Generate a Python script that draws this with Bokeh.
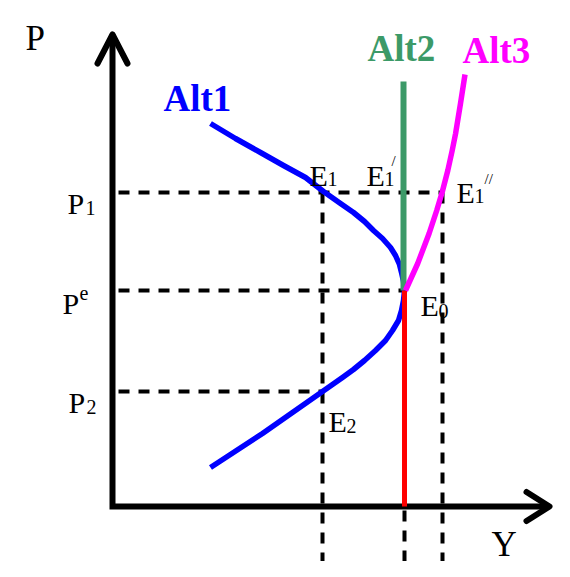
from bokeh.plotting import figure
from bokeh.models import Range1d
from bokeh.core.properties import value
from bokeh.embed import file_html
from bokeh.resources import INLINE

# ---- data (Y = output, P = price level) ----
alt1_Y = [98, 123, 148, 171, 193, 211, 228, 241, 252, 261, 270, 278, 283, 287, 289, 291, 292,
          291, 289, 286, 280, 273, 263, 252, 241, 230, 220, 210, 180, 150, 124, 98]
alt1_P = [383, 368, 354, 341, 329, 315, 303, 294, 285, 276, 268, 259, 251, 242, 234, 225, 216,
          206, 196, 186, 176, 166, 156, 146, 137, 129, 122, 115, 94, 73, 56, 39]
alt3_Y = [293, 305.2, 316.6, 324.2, 329.6, 335.3, 339.7, 343.1, 348, 352.5]
alt3_P = [216, 243, 273, 296, 314, 336, 356, 373, 403, 432]
alt2_top = 425
Y0, Y1, Y1pp = 292, 210, 330
P1, Pe, P2 = 314, 216, 115
axis_Y_max, axis_P_max = 437, 472

SERIF = value("Liberation Serif")

p = figure(width=554, height=561, x_range=Range1d(-112, 442), y_range=Range1d(-55, 506),
           output_backend="svg", toolbar_location=None, min_border=0,
           x_axis_type=None, y_axis_type=None)
p.grid.visible = False
p.outline_line_color = None
p.background_fill_color = "white"

dash = "11 9"
dw = 4
# horizontal guides
for py, yend in [(P1, Y1pp), (Pe, Y0), (P2, Y1)]:
    p.line([6, yend], [py, py], line_color="black", line_width=dw, line_dash=dash)
# vertical guides
for yx, ptop in [(Y1, P1), (Y0, Pe), (Y1pp, P1)]:
    p.line([yx, yx], [ptop, -80], line_color="black", line_width=dw, line_dash=dash)

# axes
p.line([0, 0, axis_Y_max], [axis_P_max, 0, 0], line_color="black", line_width=6, line_join="miter")
p.line([-15, 0, 15], [axis_P_max - 29, axis_P_max, axis_P_max - 29], line_color="black",
       line_width=6, line_join="round", line_cap="round")
p.line([axis_Y_max - 23, axis_Y_max, axis_Y_max - 23], [14.5, 0, -14.5], line_color="black",
       line_width=6, line_join="round", line_cap="round")

# curves
p.line(alt1_Y, alt1_P, line_color="#0000FF", line_width=5.5, line_join="round")
p.line([Y0 - 1, Y0 - 1], [Pe, alt2_top], line_color="#3C9A68", line_width=6)
p.line([Y0, Y0], [0, Pe], line_color="#FF0000", line_width=5)
p.line(alt3_Y, alt3_P, line_color="#FF00FF", line_width=5.5, line_join="round")

def txt(x, y, s, size, color="black", bold=False):
    p.text(x=[x], y=[y], text=[s], text_font=SERIF, text_font_size=f"{size}px",
           text_color=color, text_align="left", text_baseline="alphabetic",
           text_font_style="bold" if bold else "normal")

# reference-pixel helpers -> data
def X(px):
    return px - 112
def Yp(py):
    return 506 - py

txt(X(25), Yp(38), "P", 35)
txt(X(491), Yp(544), "Y", 35)

txt(X(163), Yp(98), "Alt1", 37, "#0000FF", True)
txt(X(367), Yp(48), "Alt2", 37, "#3C9A68", True)
txt(X(462), Yp(50), "Alt3", 37, "#FF00FF", True)

# price labels
txt(X(67), Yp(203), "P", 30)
txt(X(85), Yp(207), "1", 20)
txt(X(62), Yp(303), "P", 30)
txt(X(79), Yp(292), "e", 20)
txt(X(68), Yp(402), "P", 30)
txt(X(86), Yp(406), "2", 20)

# equilibrium labels
txt(X(309), Yp(175), "E", 30)
txt(X(327), Yp(178), "1", 20)
txt(X(366), Yp(175), "E", 30)
txt(X(384), Yp(178), "1", 20)
txt(X(391), Yp(160), "/", 15)
txt(X(456), Yp(192), "E", 30)
txt(X(474), Yp(195), "1", 20)
txt(X(484), Yp(178), "//", 15)
txt(X(420), Yp(305), "E", 30)
txt(X(438), Yp(310), "0", 20)
txt(X(328), Yp(421), "E", 30)
txt(X(346), Yp(425), "2", 20)

open("out.html", "w").write(file_html(p, INLINE))
